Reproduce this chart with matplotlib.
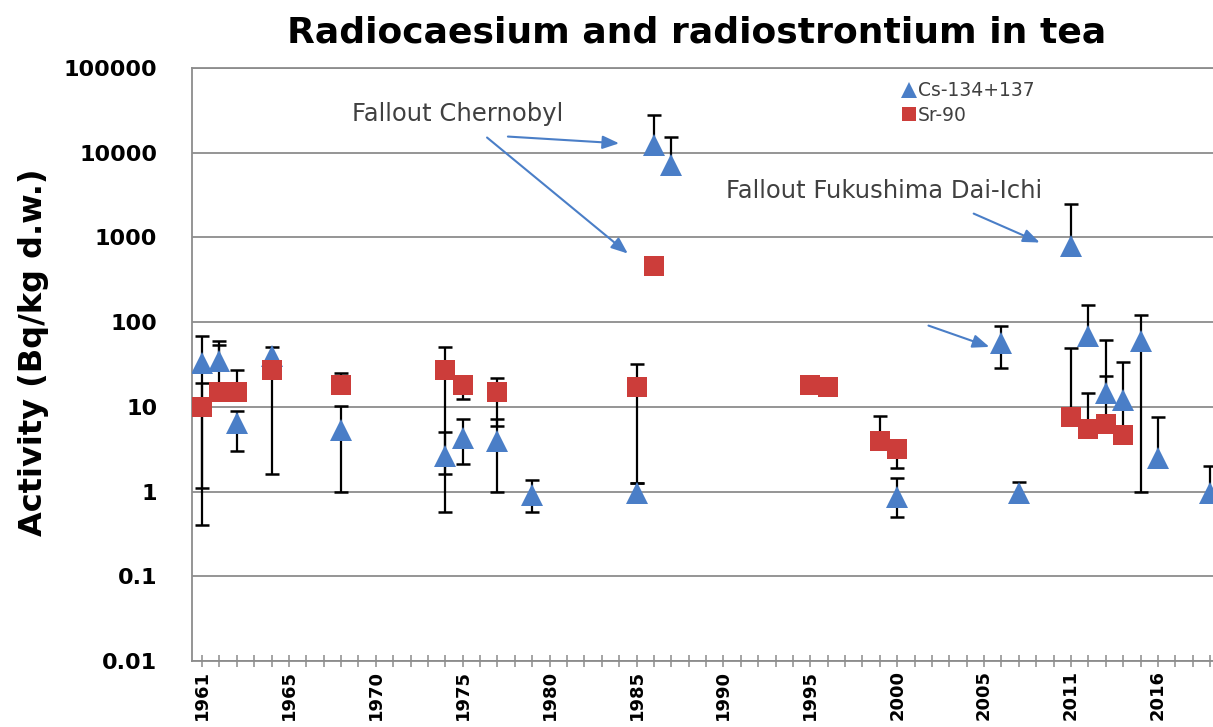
import matplotlib
matplotlib.use("Agg")
import matplotlib.pyplot as plt
from matplotlib.lines import Line2D
import numpy as np

# ---- data (x = category index on the Excel-style category axis) ----
tick_pos = [0, 5, 10, 15, 20, 25, 30, 35, 40, 45, 50, 55]
tick_labels = ['1961', '1965', '1970', '1975', '1980', '1985', '1990',
               '1995', '2000', '2005', '2011', '2016']

cs_pos = [0, 1, 2, 4, 8, 14, 15, 17, 19, 25, 26, 27, 40, 46, 47, 50, 51, 52, 53, 54, 55, 58]
cs_val = [33, 35, 6.5, 40, 5.3, 2.6, 4.3, 3.9, 0.9, 0.95, 12200, 7100, 0.87, 56, 0.95,
          800, 69, 14.7, 11.9, 60, 2.5, 0.95]
cs_low = [1.1, 35, 3.05, 40, 1.0, 0.58, 2.1, 1.0, 0.58, 0.95, 12200, 7100, 0.5, 29, 0.95,
          800, 69, 14.7, 5.0, 1.0, 2.5, 0.95]
cs_high = [69, 60, 9, 51, 10.3, 5, 7.1, 7.1, 1.38, 1.25, 27500, 15500, 1.46, 91, 1.28,
           2500, 160, 62, 34, 120, 7.5, 2.0]

sr_pos = [0, 1, 2, 4, 8, 14, 15, 17, 25, 26, 35, 36, 39, 40, 50, 51, 52, 53]
sr_val = [10, 15, 15, 27, 18, 27, 18, 14.8, 17, 455, 18, 17, 4.0, 3.2, 7.5, 5.5, 6.3, 4.6]
sr_low = [0.4, 15, 15, 1.6, 18, 1.6, 12.5, 6.0, 1.25, 455, 18, 17, 4.0, 1.9, 7.5, 5.5, 6.3, 4.6]
sr_high = [19, 53, 27, 27, 25, 51, 18, 22, 32, 455, 18, 17, 7.9, 3.2, 49, 14.7, 23, 4.6]

blue = '#4A7EC7'
red = '#CC3D3A'
grid_c = '#8c8c8c'
text_c = '#404040'

fig = plt.figure(figsize=(12.13, 7.27), dpi=100)
ax = fig.add_axes([0.1583, 0.0908, 0.8417, 0.8157])

ax.set_yscale('log')
ax.set_ylim(0.01, 100000)
ax.set_xlim(-0.575, 58.17)


def draw_err(pos, val, low, high):
    for x, v, lo, hi in zip(pos, val, low, high):
        if lo == v and hi == v:
            continue
        ax.vlines(x, lo, hi, colors='black', linewidth=1.6, zorder=3)
        ends = [e for e in (lo, hi) if e != v]
        ax.plot([x] * len(ends), ends, linestyle='none', marker='_',
                markersize=10, markeredgewidth=1.8, color='black', zorder=3)


draw_err(cs_pos, cs_val, cs_low, cs_high)
draw_err(sr_pos, sr_val, sr_low, sr_high)

ax.plot(cs_pos, cs_val, linestyle='none', marker='^', markersize=16,
        color=blue, markeredgewidth=0, zorder=4)
ax.plot(sr_pos, sr_val, linestyle='none', marker='s', markersize=14.5,
        color=red, markeredgewidth=0, zorder=5)

# axes styling
yt = [0.01, 0.1, 1, 10, 100, 1000, 10000, 100000]
ax.set_yticks(yt)
ax.set_yticklabels(['0.01', '0.1', '1', '10', '100', '1000', '10000', '100000'],
                   fontsize=16, fontweight='bold', color='black')
ax.yaxis.set_minor_locator(matplotlib.ticker.NullLocator())
ax.tick_params(axis='y', length=0, pad=25)

lab = {p: l for p, l in zip(tick_pos, tick_labels)}
ax.set_xticks(range(0, 59))
ax.set_xticklabels([lab.get(i, '') for i in range(59)], rotation=90,
                   fontsize=13, fontweight='bold', va='top', ha='center')
ax.tick_params(axis='x', direction='inout', length=9, width=1.1, color=grid_c, pad=2)

ax.yaxis.grid(True, color=grid_c, linewidth=1.3)
ax.set_axisbelow(True)
for s in ['left', 'bottom', 'top']:
    ax.spines[s].set_color(grid_c)
    ax.spines[s].set_linewidth(1.3)
ax.spines['right'].set_visible(False)

ax.set_ylabel('Activity (Bq/kg d.w.)', fontsize=23, fontweight='bold',
              color='black')
ax.yaxis.set_label_coords(-0.14, 0.52)
fig.text(0.574, 0.955, 'Radiocaesium and radiostrontium in tea', fontsize=26,
         fontweight='bold', ha='center', va='center', color='black')

# annotations
ax.text(14.7, 29000, 'Fallout Chernobyl', fontsize=17.5, color=text_c,
        ha='center', va='center')
ax.text(39.25, 3560, 'Fallout Fukushima Dai-Ichi', fontsize=17.5, color=text_c,
        ha='center', va='center')

arrows = [((17.6, 15500), (24.0, 12900)),
          ((16.4, 15100), (24.5, 645)),
          ((44.4, 1910), (48.2, 870)),
          ((41.8, 91), (45.3, 51))]
for (x0, y0), (x1, y1) in arrows:
    ax.annotate('', xy=(x1, y1), xytext=(x0, y0),
                arrowprops=dict(arrowstyle='-|>,head_length=1.0,head_width=0.4',
                                color=blue, lw=1.5, shrinkA=0, shrinkB=0), zorder=6)

handles = [Line2D([], [], linestyle='none', marker='^', color=blue, markersize=11,
                  markeredgewidth=0),
           Line2D([], [], linestyle='none', marker='s', color=red, markersize=10,
                  markeredgewidth=0)]
leg = ax.legend(handles, ['Cs-134+137', 'Sr-90'], loc='upper left',
                bbox_to_anchor=(0.688, 0.99), frameon=False, handlelength=0.7,
                handletextpad=0.15, fontsize=13.5, labelspacing=0.3, borderaxespad=0)
for t in leg.get_texts():
    t.set_color(text_c)

fig.savefig('out.png', dpi=100)
